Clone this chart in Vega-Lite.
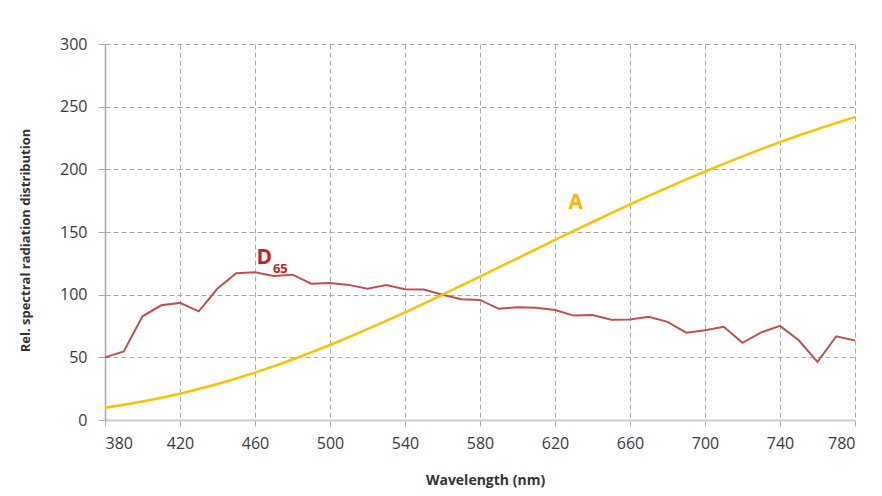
{
  "$schema": "https://vega.github.io/schema/vega-lite/v6.json",
  "width": 750,
  "height": 376,
  "autosize": "none",
  "padding": {"left": 105, "top": 44, "right": 27, "bottom": 76},
  "background": "white",
  "config": {
    "view": {"stroke": null},
    "font": "Open Sans",
    "axis": {
      "grid": true,
      "gridColor": "#ababab",
      "gridDash": [5, 3],
      "gridWidth": 1,
      "labelFont": "Open Sans",
      "labelFontSize": 16,
      "labelColor": "#3a3a40",
      "titleFont": "Open Sans",
      "titleFontWeight": "bold",
      "titleColor": "#333333",
      "tickColor": "#ababab"
    }
  },
  "data": {
    "values": [
      {"wl": 380, "d65": 49.98, "a": 9.80},
      {"wl": 390, "d65": 54.65, "a": 12.09},
      {"wl": 400, "d65": 82.75, "a": 14.71},
      {"wl": 410, "d65": 91.49, "a": 17.68},
      {"wl": 420, "d65": 93.43, "a": 20.99},
      {"wl": 430, "d65": 86.68, "a": 24.67},
      {"wl": 440, "d65": 104.86, "a": 28.70},
      {"wl": 450, "d65": 117.01, "a": 33.09},
      {"wl": 460, "d65": 117.81, "a": 37.81},
      {"wl": 470, "d65": 114.86, "a": 42.87},
      {"wl": 480, "d65": 115.92, "a": 48.24},
      {"wl": 490, "d65": 108.81, "a": 53.91},
      {"wl": 500, "d65": 109.35, "a": 59.86},
      {"wl": 510, "d65": 107.80, "a": 66.06},
      {"wl": 520, "d65": 104.79, "a": 72.50},
      {"wl": 530, "d65": 107.69, "a": 79.13},
      {"wl": 540, "d65": 104.41, "a": 85.95},
      {"wl": 550, "d65": 104.05, "a": 92.91},
      {"wl": 560, "d65": 100.00, "a": 100.00},
      {"wl": 570, "d65": 96.33, "a": 107.18},
      {"wl": 580, "d65": 95.79, "a": 114.44},
      {"wl": 590, "d65": 88.69, "a": 121.73},
      {"wl": 600, "d65": 90.01, "a": 129.04},
      {"wl": 610, "d65": 89.60, "a": 136.35},
      {"wl": 620, "d65": 87.70, "a": 143.62},
      {"wl": 630, "d65": 83.29, "a": 150.84},
      {"wl": 640, "d65": 83.70, "a": 157.98},
      {"wl": 650, "d65": 80.03, "a": 165.03},
      {"wl": 660, "d65": 80.21, "a": 171.96},
      {"wl": 670, "d65": 82.28, "a": 178.77},
      {"wl": 680, "d65": 78.28, "a": 185.43},
      {"wl": 690, "d65": 69.72, "a": 191.93},
      {"wl": 700, "d65": 71.61, "a": 198.26},
      {"wl": 710, "d65": 74.35, "a": 204.41},
      {"wl": 720, "d65": 61.60, "a": 210.36},
      {"wl": 730, "d65": 69.89, "a": 216.12},
      {"wl": 740, "d65": 75.09, "a": 221.67},
      {"wl": 750, "d65": 63.59, "a": 227.00},
      {"wl": 760, "d65": 46.42, "a": 232.12},
      {"wl": 770, "d65": 66.81, "a": 237.01},
      {"wl": 780, "d65": 63.38, "a": 241.68}
    ]
  },
  "layer": [
    {
      "mark": {"type": "line", "color": "#c0504d", "strokeWidth": 2},
      "encoding": {
        "x": {
          "field": "wl", "type": "quantitative",
          "scale": {"domain": [380, 780], "nice": false, "zero": false},
          "axis": {
            "values": [380, 420, 460, 500, 540, 580, 620, 660, 700, 740, 780],
            "title": "Wavelength (nm)",
            "titleFontSize": 14,
            "titleX": 380,
            "titleY": 60,
            "titleBaseline": "middle",
            "domainColor": "#cccccc",
            "domainWidth": 2,
            "tickSize": 6,
            "labelPadding": 9
          }
        },
        "y": {
          "field": "d65", "type": "quantitative",
          "scale": {"domain": [0, 300], "nice": false},
          "axis": {
            "values": [0, 50, 100, 150, 200, 250, 300],
            "title": "Rel. spectral radiation distribution",
            "titleFontSize": 13,
            "titleX": -80,
            "titleY": 196,
            "titleAlign": "center",
            "titleBaseline": "middle",
            "domainColor": "#a6a6a6",
            "domainWidth": 1.5,
            "tickSize": 7,
            "labelPadding": 11
          }
        }
      }
    },
    {
      "mark": {"type": "line", "color": "#ffc000", "strokeWidth": 2.5},
      "encoding": {
        "x": {"field": "wl", "type": "quantitative"},
        "y": {"field": "a", "type": "quantitative"}
      }
    },
    {
      "data": {"values": [
        {"x": 465, "y": 129.6, "label": "D", "size": 21, "color": "#c8202a"},
        {"x": 473.5, "y": 120.5, "label": "65", "size": 13, "color": "#c8202a"},
        {"x": 631, "y": 173.5, "label": "A", "size": 21, "color": "#ffb400"}
      ]},
      "mark": {"type": "text", "fontWeight": "bold", "font": "Open Sans", "baseline": "middle", "align": "center"},
      "encoding": {
        "x": {"field": "x", "type": "quantitative"},
        "y": {"field": "y", "type": "quantitative"},
        "text": {"field": "label"},
        "size": {"field": "size", "type": "quantitative", "scale": null},
        "color": {"field": "color", "type": "nominal", "scale": null}
      }
    }
  ]
}
